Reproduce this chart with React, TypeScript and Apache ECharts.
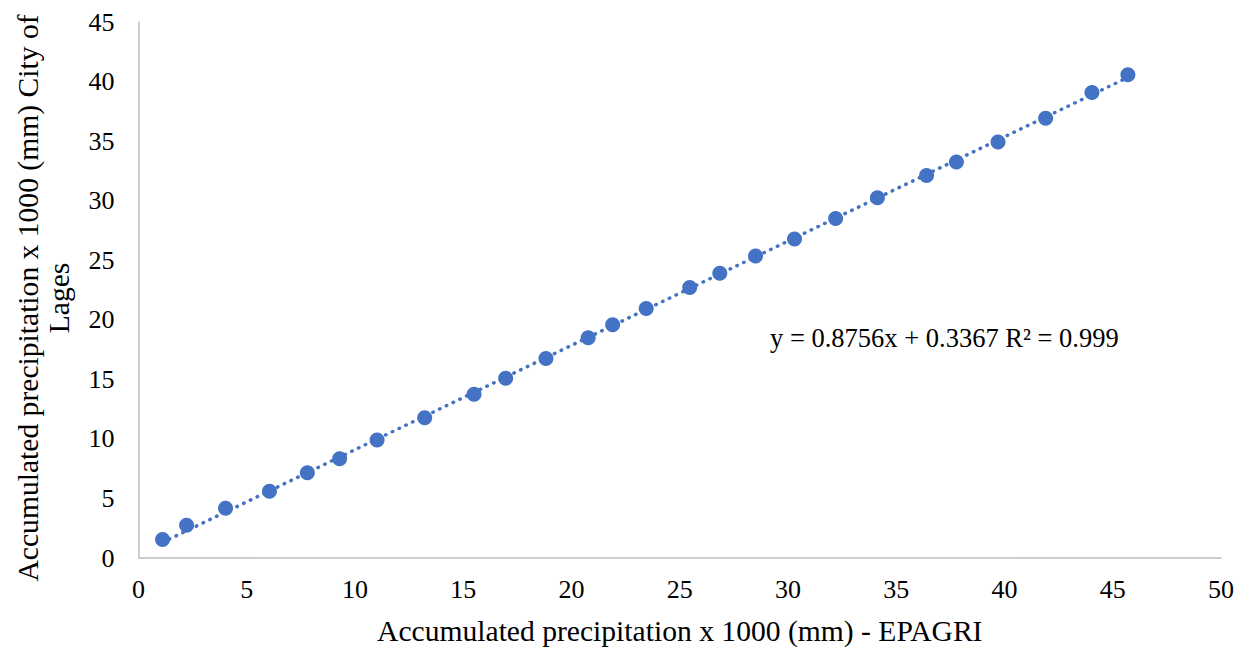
import React, { useEffect, useRef } from "react";
import * as echarts from "echarts";

const epagri: number[] = [1.11, 2.22, 4.02, 6.05, 7.8, 9.29, 11.02, 13.22, 15.5, 16.96, 18.82, 20.77, 21.9, 23.45, 25.46, 26.85, 28.5, 30.3, 32.2, 34.13, 36.4, 37.78, 39.7, 41.9, 44.04, 45.7];
const lages: number[] = [1.56, 2.75, 4.17, 5.6, 7.15, 8.33, 9.9, 11.78, 13.75, 15.1, 16.75, 18.5, 19.58, 20.95, 22.7, 23.9, 25.35, 26.78, 28.5, 30.25, 32.12, 33.25, 34.92, 36.92, 39.08, 40.58];
const slope = 0.8756;
const intercept = 0.3367;
const xTicks = { min: 0, max: 50, interval: 5 };
const yTicks = { min: 0, max: 45, interval: 5 };
const equationText = "y = 0.8756x + 0.3367 R² = 0.999";
const xTitle = "Accumulated precipitation x 1000 (mm) - EPAGRI";
const yTitle = "Accumulated precipitation x 1000 (mm) City of\nLages";

const FONT = "'Liberation Serif', 'Times New Roman', serif";
const BLUE = "#4472C4";

export default function App() {
  const ref = useRef<HTMLDivElement>(null);
  useEffect(() => {
    if (!ref.current) return;
    const chart = echarts.init(ref.current, undefined, { renderer: "svg" });
    const points = epagri.map((x, i) => [x, lages[i]]);
    const x0 = epagri[0];
    const x1 = epagri[epagri.length - 1];
    const trend = [
      [x0, slope * x0 + intercept],
      [x1, slope * x1 + intercept],
    ];
    chart.setOption({
      animation: false,
      backgroundColor: "#ffffff",
      grid: { left: 138.5, right: 24, top: 22, bottom: 89.5 },
      xAxis: {
        type: "value",
        min: xTicks.min,
        max: xTicks.max,
        interval: xTicks.interval,
        name: xTitle,
        nameLocation: "middle",
        nameGap: 58,
        nameTextStyle: { fontFamily: FONT, fontSize: 29.6, color: "#000" },
        axisLine: { show: true, lineStyle: { color: "#bfbfbf", width: 1.5 } },
        axisTick: { show: false },
        splitLine: { show: false },
        axisLabel: { fontFamily: FONT, fontSize: 26, color: "#000", margin: 18 },
      },
      yAxis: {
        type: "value",
        min: yTicks.min,
        max: yTicks.max,
        interval: yTicks.interval,
        axisLine: { show: true, lineStyle: { color: "#bfbfbf", width: 1.5 } },
        axisTick: { show: false },
        splitLine: { show: false },
        axisLabel: { fontFamily: FONT, fontSize: 26, color: "#000", margin: 24 },
      },
      graphic: [
        {
          type: "text",
          x: 43,
          y: 298,
          rotation: Math.PI / 2,
          style: {
            text: yTitle,
            fontFamily: FONT,
            fontSize: 29.6,
            fill: "#000",
            align: "center",
            verticalAlign: "middle",
            lineHeight: 31,
          },
        },
        {
          type: "text",
          x: 770,
          y: 338,
          style: {
            text: equationText,
            fontFamily: FONT,
            fontSize: 26.5,
            fill: "#000",
            align: "left",
            verticalAlign: "middle",
          },
        },
      ],
      series: [
        {
          type: "line",
          data: trend,
          showSymbol: false,
          symbol: "none",
          lineStyle: { color: BLUE, width: 3.5, type: [0.5, 7], cap: "round" },
          z: 1,
        },
        {
          type: "scatter",
          data: points,
          symbol: "circle",
          symbolSize: 15,
          itemStyle: { color: BLUE, opacity: 1 },
          z: 2,
        },
      ],
    });
    return () => chart.dispose();
  }, []);
  return <div ref={ref} style={{ width: 1245, height: 651, position: "absolute", left: 0, top: 0 }} />;
}
